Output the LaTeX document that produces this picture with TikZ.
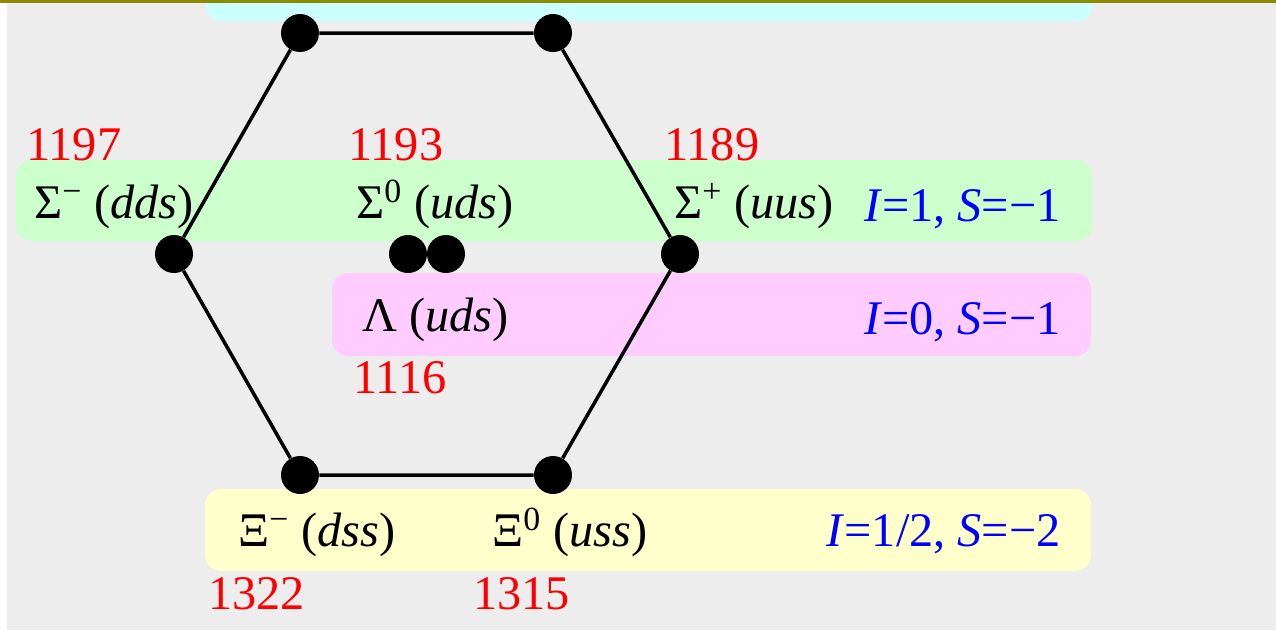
\documentclass[tikz,border=0pt]{standalone}
\usepackage{fontspec}
\setmainfont{Liberation Serif}
\definecolor{slidegray}{HTML}{EDEDED}
\definecolor{rulegold}{HTML}{8C8A00}
\definecolor{bandcyan}{HTML}{CCFFFF}
\definecolor{bandgreen}{HTML}{CCFFCC}
\definecolor{bandpink}{HTML}{FFCCFF}
\definecolor{bandyellow}{HTML}{FFFFCC}
\newcommand{\hsup}[1]{\textsuperscript{#1}}

\begin{document}
\begin{tikzpicture}[x=0.02cm, y=-0.02cm,
  font=\fontsize{27.5}{33}\selectfont,
  band/.style={rounded corners=0.32cm},
  baryon/.style={circle, fill=black, inner sep=0pt, minimum size=0.76cm},
  hadron/.style={inner sep=0pt, anchor=base west},
  massnum/.style={text=red, inner sep=0pt, anchor=base west},
  qnum/.style={text=blue, inner sep=0pt, anchor=base east}]
  \useasboundingbox (0,0) rectangle (1276,630);
  \clip (0,0) rectangle (1276,630);
  \fill[white] (0,0) rectangle (1276,630);
  \fill[slidegray] (7,3) rectangle (1276,630);
  \fill[bandcyan, band] (206,-40) rectangle (1093,21);
  \fill[bandgreen, band] (16,160) rectangle (1092,241);
  \fill[bandpink, band] (332,273) rectangle (1091,356);
  \fill[bandyellow, band] (205,489) rectangle (1091,571);
  \fill[rulegold] (0,0) rectangle (1276,3);

  \node[baryon] (n) at (300,33) {};
  \node[baryon] (p) at (553,33) {};
  \node[baryon] (sigm) at (174,254) {};
  \node[baryon] (sigz) at (408,254) {};
  \node[baryon] (lam) at (446,254) {};
  \node[baryon] (sigp) at (680,254) {};
  \node[baryon] (xim) at (300,475) {};
  \node[baryon] (xiz) at (553,475) {};
  \draw[line width=0.07cm] (n) -- (p) -- (sigp) -- (xiz) -- (xim) -- (sigm) -- (n);

  \node[hadron] (sigmtxt) at (34,218) {Σ\hsup{−} (\textit{dds})};
  \node[hadron] (sigztxt) at (356,218) {Σ\hsup{0} (\textit{uds})};
  \node[hadron] (sigptxt) at (674,218) {Σ\hsup{+} (\textit{uus})};
  \node[hadron] (lamtxt) at (362,331) {Λ (\textit{uds})};
  \node[hadron] (ximtxt) at (238,546) {Ξ\hsup{−} (\textit{dss})};
  \node[hadron] (xiztxt) at (492,546) {Ξ\hsup{0} (\textit{uss})};

  \node[massnum] (msigm) at (26,160) {1197};
  \node[massnum] (msigz) at (348,160) {1193};
  \node[massnum] (msigp) at (664,160) {1189};
  \node[massnum] (mlam) at (353,393) {1116};
  \node[massnum] (mxim) at (208,609) {1322};
  \node[massnum] (mxiz) at (473,609) {1315};

  \node[qnum] (qsig) at (1061,221) {\textit{I}=1, \textit{S}=−1};
  \node[qnum] (qlam) at (1061,334) {\textit{I}=0, \textit{S}=−1};
  \node[qnum] (qxi) at (1061,546) {\textit{I}=1/2, \textit{S}=−2};
\end{tikzpicture}
\end{document}
